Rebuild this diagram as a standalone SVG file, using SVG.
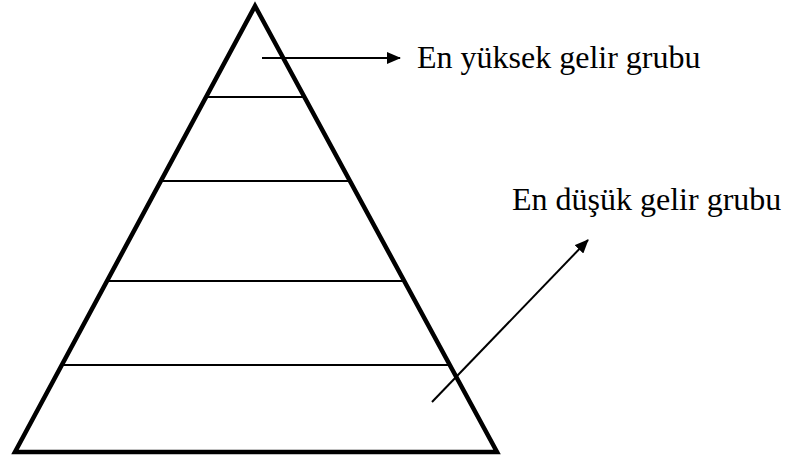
<svg xmlns="http://www.w3.org/2000/svg" width="788" height="459" viewBox="0 0 788 459">
<style>
.tri{fill:none;stroke:#000;stroke-width:4.5;stroke-linejoin:miter}
.band{stroke:#000;stroke-width:2}
.conn{stroke:#000;stroke-width:2;fill:none}
.lbl{font-family:"Liberation Serif","Times New Roman",serif;font-size:32px;fill:#000}
</style>
<defs>
<marker id="ah" viewBox="0 0 14 12" refX="13" refY="6" markerWidth="7" markerHeight="6" orient="auto" markerUnits="strokeWidth">
<path d="M0,0 L14,6 L0,12 z" fill="#000"/>
</marker>
</defs>
<g id="pyramid">
<polygon class="tri" points="255,6 15,452 497,452"/>
<line class="band" x1="205.6" y1="97" x2="304.8" y2="97"/>
<line class="band" x1="160.5" y1="181" x2="350.3" y2="181"/>
<line class="band" x1="106.8" y1="281" x2="404.4" y2="281"/>
<line class="band" x1="61.7" y1="365" x2="449.9" y2="365"/>
</g>
<g id="connectors">
<line class="conn" x1="262" y1="58" x2="400" y2="58" marker-end="url(#ah)"/>
<line class="conn" x1="432" y1="402" x2="588" y2="240" marker-end="url(#ah)"/>
</g>
<g id="label-top"><text class="lbl" x="417" y="68">En yüksek gelir grubu</text></g>
<g id="label-bottom"><text class="lbl" x="512" y="210">En düşük gelir grubu</text></g>
</svg>
